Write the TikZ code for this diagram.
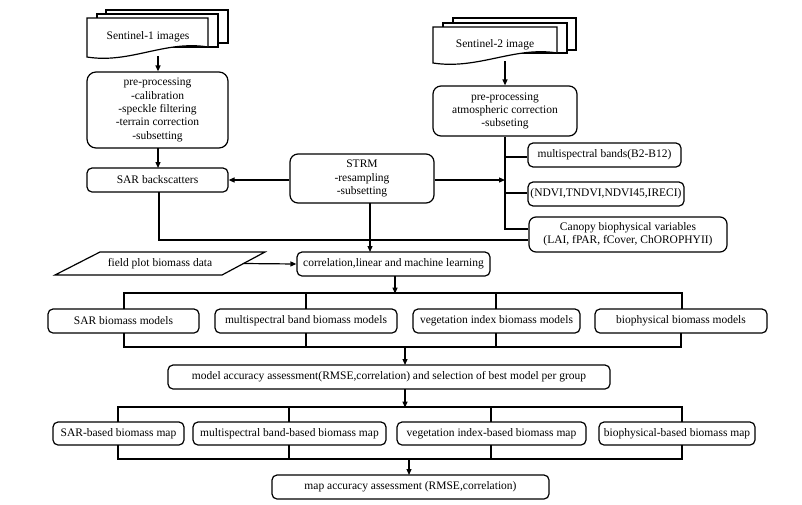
\documentclass[tikz,border=0pt]{standalone}
\usepackage{fontspec}
\setmainfont{Liberation Serif}
\newfontfamily\tnrfont{Liberation Serif}
\usetikzlibrary{arrows.meta}
\begin{document}
\begin{tikzpicture}[x=1pt,y=-1pt,
  every node/.style={font=\tnrfont\fontsize{11.5}{13.3}\selectfont},
  box/.style={draw, line width=1.2pt, rounded corners=5pt, align=center, inner sep=0pt, fill=white},
  bigbox/.style={box, rounded corners=9pt},
  ln/.style={line width=1.2pt},
  arr/.style={line width=1.2pt, -{Triangle[length=6pt,width=5pt]}},
  sheet/.style={draw, line width=1.2pt, fill=white}]
\useasboundingbox (0,0) rectangle (802,504);

% Sentinel-1 stack
\draw[sheet] (106,10) rectangle (228,43);
\draw[sheet] (97,14) rectangle (218,47);
\draw[sheet] (87,18) -- (208,18) -- (208,47) .. controls (165,40) and (130,64) .. (87,57) -- cycle;
\node (s1) at (148,37) {Sentinel-1 images};
\coordinate (s1b) at (158,56);

% Sentinel-2 stack
\draw[sheet] (453,18) rectangle (576,50);
\draw[sheet] (443,23) rectangle (567,53);
\draw[sheet] (433,27) -- (557,27) -- (557,53) .. controls (515,46) and (478,70) .. (433,63) -- cycle;
\node (s2) at (495,45) {Sentinel-2 image};
\coordinate (s2b) at (505,61);

% boxes
\node[bigbox, minimum width=141pt, minimum height=76pt] (pre1) at (157.5,110)
  {pre-processing\\-calibration\\-speckle filtering\\-terrain correction\\-subsetting};
\node[box, minimum width=141pt, minimum height=24pt] (sar) at (157.5,180) {SAR backscatters};
\node[box, rounded corners=8pt, minimum width=144pt, minimum height=49pt] (strm) at (362,178.5)
  {STRM\\-resampling\\-subsetting};
\node[box, rounded corners=8pt, minimum width=144pt, minimum height=50pt] (pre2) at (505,111)
  {pre-processing\\atmospheric correction\\-subseting};
\node[box, minimum width=153pt, minimum height=24pt] (msb) at (604.5,155) {multispectral bands(B2-B12)};
\node[box, minimum width=156pt, minimum height=24pt] (ndvi) at (606,194) {(NDVI,TNDVI,NDVI45,IRECI)};
\node[box, rounded corners=7pt, minimum width=198pt, minimum height=35pt] (canopy) at (628,234.5)
  {Canopy biophysical variables\\(LAI, fPAR, fCover, ChOROPHYII)};

\draw[ln] (55,275) -- (100,252) -- (265,252) -- (222,275) -- cycle;
\node (field) at (160,264) {field plot biomass data};
\coordinate (fieldR) at (243.5,263.5);

\node[box, minimum width=193pt, minimum height=24pt] (corr) at (393.5,264) {correlation,linear and machine learning};

\node[box, minimum width=151pt, minimum height=24pt] (m1) at (123.5,321) {SAR biomass models};
\node[box, minimum width=182pt, minimum height=24pt] (m2) at (306,321) {multispectral band biomass models};
\node[box, minimum width=167pt, minimum height=24pt] (m3) at (496.5,321) {vegetation index biomass models};
\node[box, minimum width=172pt, minimum height=24pt] (m4) at (681,321) {biophysical biomass models};

\node[box, minimum width=442pt, minimum height=24pt] (acc) at (389,377)
  {model accuracy assessment(RMSE,correlation) and selection of best model per group};

\node[box, minimum width=131pt, minimum height=23pt] (p1) at (118.5,433.5) {SAR-based biomass map};
\node[box, minimum width=193pt, minimum height=23pt] (p2) at (289.5,433.5) {multispectral band-based biomass map};
\node[box, minimum width=189pt, minimum height=23pt] (p3) at (491.5,433.5) {vegetation index-based biomass map};
\node[box, minimum width=156pt, minimum height=23pt] (p4) at (677,433.5) {biophysical-based biomass map};

\node[box, minimum width=277pt, minimum height=24pt] (macc) at (410.5,487) {map accuracy assessment (RMSE,correlation)};

% connectors top
\draw[arr] (s1b) -- (s1b |- pre1.north);
\draw[arr] (s2b) -- (s2b |- pre2.north);
\draw[arr] (158,148) -- (158,168);
\draw[arr] (strm.west |- 0,180) -- (sar.east |- 0,180);
\coordinate (vj) at (505,180);
\draw[arr] (strm.east |- 0,180) -- (vj);
\draw[ln] (pre2.south) -- (505,229) -- (canopy.west |- 0,229);
\draw[ln] (505,157) -- (msb.west |- 0,157);
\draw[ln] (505,193) -- (ndvi.west |- 0,193);
\draw[ln] (159,192) -- (159,240) -- (canopy.west |- 0,240);
\draw[arr] (370,203) -- (370,252);
\draw[arr] (fieldR) -- (corr.west);

% model tree
\draw[arr] (395,276) -- (395,293.6);
\draw[ln] (124,309) -- (124,293) -- (682,293) -- (682,309);
\draw[ln] (306,293) -- (306,309);
\draw[ln] (496,293) -- (496,309);
\draw[ln] (124,333) -- (124,347) -- (681,347) -- (681,333);
\draw[ln] (306,333) -- (306,347);
\draw[ln] (496,333) -- (496,347);
\draw[arr] (405,347) -- (405,365);

% map tree
\draw[arr] (405,389) -- (405,407.6);
\draw[ln] (118,422) -- (118,407) -- (682,407) -- (682,422);
\draw[ln] (289,407) -- (289,422);
\draw[ln] (491,407) -- (491,422);
\draw[ln] (118,445) -- (118,459) -- (682,459) -- (682,445);
\draw[ln] (289,445) -- (289,459);
\draw[ln] (491,445) -- (491,459);
\draw[arr] (409,459) -- (409,475);
\end{tikzpicture}
\end{document}
